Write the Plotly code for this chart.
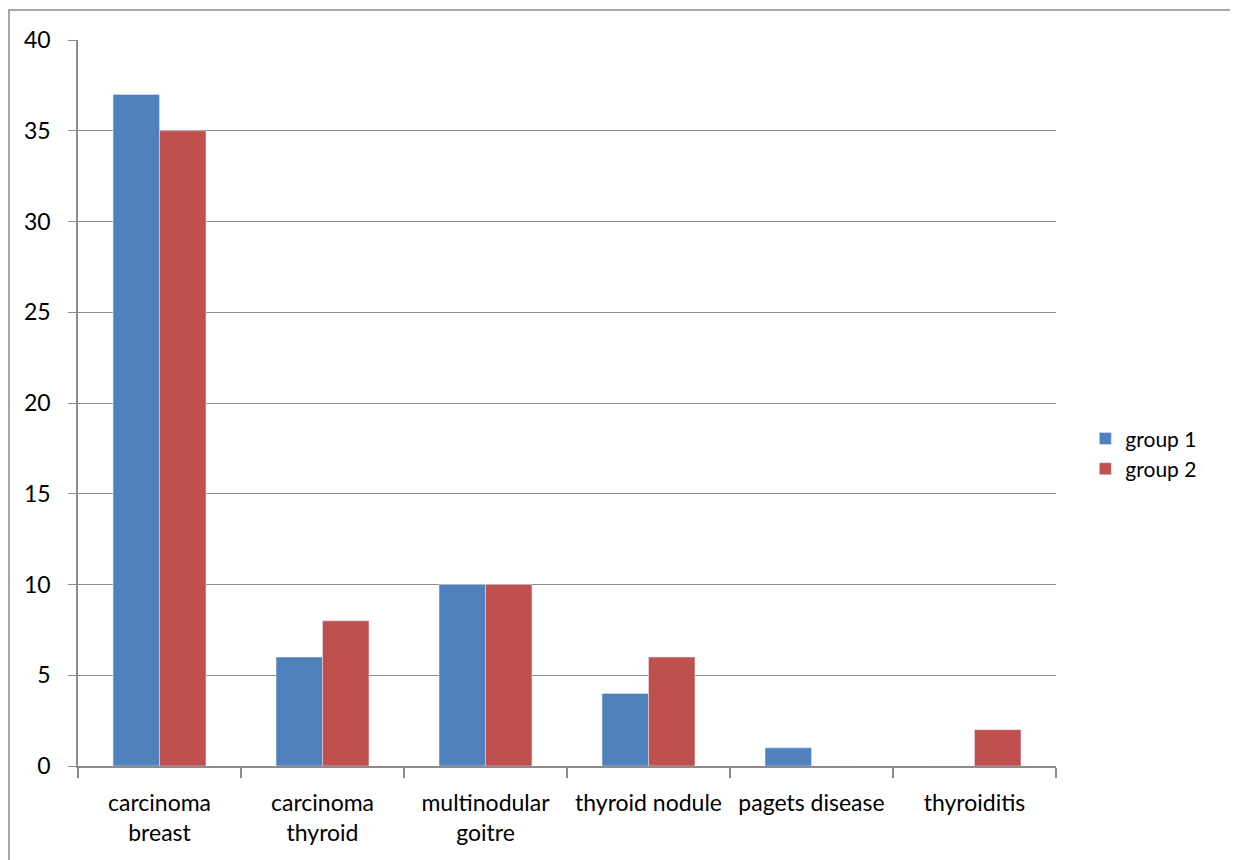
import plotly.graph_objects as go

categories = ["carcinoma<br>breast", "carcinoma<br>thyroid", "multinodular<br>goitre",
              "thyroid nodule", "pagets disease", "thyroiditis"]
group1 = [37, 6, 10, 4, 1, 0]
group2 = [35, 8, 10, 6, 0, 2]
y_ticks = [0, 5, 10, 15, 20, 25, 30, 35, 40]

fig = go.Figure()
fig.add_trace(go.Bar(x=categories, y=group1, name="group 1", marker_color="#4F81BD"))
fig.add_trace(go.Bar(x=categories, y=group2, name="group 2", marker_color="#C0504D"))

grid = "#8c8c8c"
fig.update_layout(
    width=1238, height=860,
    margin=dict(l=70, r=190, t=32, b=102),
    paper_bgcolor="white", plot_bgcolor="white",
    barmode="group", bargap=0.43, bargroupgap=0,
    font=dict(family="Lato, Carlito, Liberation Sans, sans-serif", size=23, color="#000"),
    showlegend=True,
    legend=dict(x=1.03, y=0.43, xanchor="left", yanchor="middle",
                font=dict(size=21), itemwidth=30, tracegroupgap=0,
                bgcolor="rgba(0,0,0,0)"),
    xaxis=dict(showline=True, linecolor=grid, linewidth=1.5, ticks="outside",
               tickson="boundaries", ticklen=10, tickcolor=grid, tickwidth=1.5,
               showgrid=False, ticklabelstandoff=16),
    yaxis=dict(range=[0, 40], tickvals=y_ticks, showline=True, linecolor=grid,
               linewidth=1.5, showgrid=True, gridcolor=grid, gridwidth=1.2,
               ticks="outside", ticklen=8, tickcolor=grid, tickwidth=1.2,
               ticklabelstandoff=13, zeroline=False),
    shapes=[dict(type="rect", xref="paper", yref="paper",
                 x0=-0.0706, x1=1.184, y0=-0.2, y1=1.0413,
                 line=dict(color="#8c8c8c", width=1.5), layer="below")],
)

fig.write_html("out.html")
